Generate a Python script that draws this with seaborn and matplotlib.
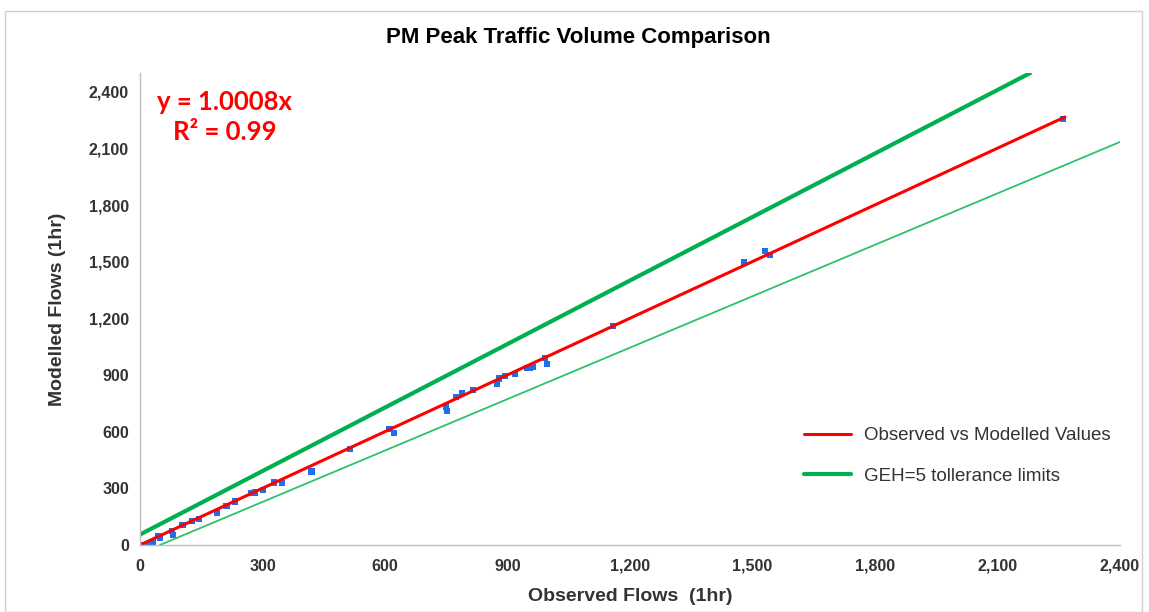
import pandas as pd
import matplotlib.pyplot as plt
import seaborn as sns
from matplotlib.patches import Rectangle
from matplotlib.ticker import FuncFormatter

# Observed vs modelled flows (1hr)
observed = [4, 12, 25, 32, 44, 49, 78, 80, 104, 127, 144, 188, 212, 233, 273, 282,
            302, 328, 347, 420, 514, 611, 622, 749, 751, 774, 788, 816, 874, 880,
            894, 918, 947, 955, 963, 992, 996, 1158, 1480, 1531, 1543, 2261]
modelled = [0, 0, 10, 16, 48, 37, 76, 51, 105, 126, 138, 172, 207, 230, 274, 278,
            292, 331, 328, 389, 510, 614, 593, 734, 708, 782, 805, 823, 853, 882,
            897, 906, 938, 938, 942, 991, 960, 1158, 1496, 1558, 1536, 2257]

# trend line and GEH=5 limit lines
fit_x = [0, 2265]
fit_y = [0, 2267]
geh_upper_x = [0, 2180]
geh_upper_y = [55, 2500]
geh_lower_x = [49, 2400]
geh_lower_y = [0, 2135]

ticks_x = [0, 300, 600, 900, 1200, 1500, 1800, 2100, 2400]
ticks_y = [0, 300, 600, 900, 1200, 1500, 1800, 2100, 2400]

sns.set_style("white")
plt.rcParams['font.family'] = ['Liberation Sans', 'DejaVu Sans']

df = pd.DataFrame({"Observed": observed, "Modelled": modelled})

fig = plt.figure(figsize=(11.49, 6.12), dpi=100)
ax = fig.add_axes([0.1218, 0.1095, 0.853, 0.7712])

sns.lineplot(x=geh_upper_x, y=geh_upper_y, ax=ax, color="#00B050", linewidth=3,
             label="GEH=5 tollerance limits")
sns.lineplot(x=geh_lower_x, y=geh_lower_y, ax=ax, color="#2EC26A", linewidth=1.3)
sns.lineplot(x=fit_x, y=fit_y, ax=ax, color="#FF0000", linewidth=2.2,
             label="Observed vs Modelled Values")
sns.scatterplot(data=df, x="Observed", y="Modelled", ax=ax, marker="s", s=20,
                color="#1F6FE8", edgecolor="none", zorder=1)

ax.set_xlim(0, 2400)
ax.set_ylim(0, 2500)
ax.set_xticks(ticks_x)
ax.set_yticks(ticks_y)
fmt = FuncFormatter(lambda v, p: f"{int(v):,}")
ax.xaxis.set_major_formatter(fmt)
ax.yaxis.set_major_formatter(fmt)
ax.tick_params(axis="both", direction="out", length=4, width=1, color="#BFBFBF",
               labelsize=11.5)
ax.tick_params(axis="x", pad=6)
ax.tick_params(axis="y", pad=4)
for lab in ax.get_xticklabels() + ax.get_yticklabels():
    lab.set_fontweight("bold")
    lab.set_color("#333333")

for side in ["top", "right"]:
    ax.spines[side].set_visible(False)
for side in ["left", "bottom"]:
    ax.spines[side].set_color("#BFBFBF")
    ax.spines[side].set_linewidth(1)

ax.set_xlabel("Observed Flows  (1hr)", fontsize=14, fontweight="bold", color="#333333")
ax.set_ylabel("Modelled Flows (1hr)", fontsize=14, fontweight="bold", color="#333333")
ax.xaxis.set_label_coords(0.5, -0.092)
ax.yaxis.set_label_coords(-0.075, 0.5)

fig.text(0.503, 0.938, "PM Peak Traffic Volume Comparison", ha="center", va="center",
         fontsize=16, fontweight="bold", color="black")

ax.text(208, 2347, "y = 1.0008x", ha="center", va="center", fontsize=18.5,
        fontweight="bold", color="#FF0000", family=["Lato", "DejaVu Sans"])
ax.text(208, 2188, "R² = 0.99", ha="center", va="center", fontsize=18.5,
        fontweight="bold", color="#FF0000", family=["Lato", "DejaVu Sans"])

handles, labels = ax.get_legend_handles_labels()
order = [1, 0]
leg = ax.legend([handles[i] for i in order], [labels[i] for i in order],
                loc="upper left", bbox_to_anchor=(0.66, 0.285), frameon=False,
                fontsize=13.5, handlelength=2.5, handletextpad=0.7, labelspacing=1.25)
for t in leg.get_texts():
    t.set_color("#333333")

fig.patches.append(Rectangle((0.004, 0.0), 0.99, 0.982, transform=fig.transFigure,
                             fill=False, edgecolor="#D0D0D0", linewidth=1))

fig.savefig("out.png", dpi=100)
